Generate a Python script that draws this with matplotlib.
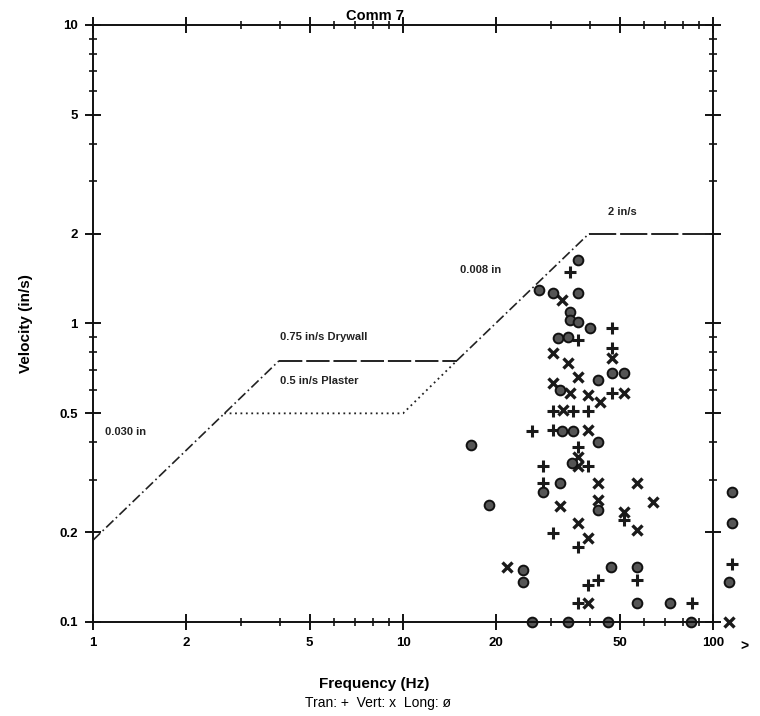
import matplotlib.pyplot as plt
import numpy as np
from matplotlib.ticker import FixedLocator, FixedFormatter, LogLocator, NullFormatter

plt.rcParams['font.family'] = ['Liberation Sans', 'DejaVu Sans']

# --- Criteria lines (corner points) ---
disp030_f = [1.0, 3.98]
disp030_v = [0.188, 0.75]
drywall_f = [3.98, 14.9]
drywall_v = [0.75, 0.75]
disp008_f = [14.9, 39.8]
disp008_v = [0.75, 2.0]
cap2_f = [39.8, 100.0]
cap2_v = [2.0, 2.0]
plaster_f = [2.65, 10.0, 14.9]
plaster_v = [0.5, 0.5, 0.75]

# --- Measured peaks: Tran (+) ---
tran_f = [34.6, 47.2, 36.7, 47.2, 47.2, 30.5, 35.3, 39.5, 26.1, 30.5, 36.7, 39.5,
          28.3, 28.3, 30.5, 36.7, 51.6, 39.5, 42.6, 56.9, 36.7, 85.5, 115.0]
tran_v = [1.49, 0.966, 0.88, 0.828, 0.585, 0.509, 0.509, 0.509, 0.435, 0.44, 0.386, 0.334,
          0.334, 0.293, 0.199, 0.178, 0.22, 0.133, 0.138, 0.138, 0.116, 0.116, 0.157]

# --- Vert (x) ---
vert_f = [32.6, 30.5, 34.1, 47.2, 30.5, 36.7, 34.6, 51.6, 39.5, 43.2, 32.8, 39.5, 36.7,
          36.7, 42.6, 56.9, 64.0, 42.6, 32.1, 51.6, 56.9, 36.7, 39.5, 21.6, 39.5, 113.0]
vert_v = [1.2, 0.796, 0.738, 0.766, 0.632, 0.662, 0.585, 0.585, 0.576, 0.545, 0.512, 0.44, 0.357,
          0.334, 0.293, 0.293, 0.252, 0.256, 0.245, 0.234, 0.203, 0.215, 0.191, 0.153, 0.116, 0.1]

# --- Long (o) ---
long_f = [36.7, 27.5, 30.5, 36.7, 34.6, 34.6, 36.7, 40.1, 31.6, 34.1, 42.6, 47.2, 51.6,
          32.1, 35.3, 32.6, 42.6, 35.0, 16.6, 32.1, 28.3, 18.9, 42.6, 24.4, 24.4, 46.9,
          56.9, 56.9, 72.6, 115.0, 115.0, 113.0, 26.1, 34.1, 45.8, 84.9]
long_v = [1.63, 1.29, 1.27, 1.27, 1.09, 1.03, 1.01, 0.966, 0.894, 0.90, 0.647, 0.683, 0.683,
          0.599, 0.435, 0.435, 0.40, 0.341, 0.392, 0.293, 0.272, 0.247, 0.237, 0.149, 0.136, 0.153,
          0.153, 0.116, 0.116, 0.272, 0.215, 0.136, 0.1, 0.1, 0.1, 0.1]

x_ticks = [1, 2, 5, 10, 20, 50, 100]
x_labels = ['1', '2', '5', '10', '20', '50', '100']
y_ticks = [0.1, 0.2, 0.5, 1, 2, 5, 10]
y_labels = ['0.1', '0.2', '0.5', '1', '2', '5', '10']

fig = plt.figure(figsize=(7.6, 7.16), dpi=100)
ax = fig.add_axes([0.1224, 0.1313, 0.8158, 0.8338])
ax.set_xscale('log')
ax.set_yscale('log')
ax.set_xlim(1, 100)
ax.set_ylim(0.1, 10)

lc = '#222222'
ax.plot(disp030_f, disp030_v, color=lc, lw=1.2, linestyle=(0, (6, 2, 1, 2)))
ax.plot(drywall_f, drywall_v, color=lc, lw=1.4, linestyle=(0, (12, 2)))
ax.plot(disp008_f, disp008_v, color=lc, lw=1.2, linestyle=(0, (6, 2, 1, 2)))
ax.plot(cap2_f, cap2_v, color=lc, lw=1.4, linestyle=(0, (14, 2)))
ax.plot(plaster_f, plaster_v, color=lc, lw=1.3, linestyle=(0, (1, 2)))

ax.plot(tran_f, tran_v, linestyle='none', marker='+', ms=9, mew=2.2, color='#1a1a1a', clip_on=False)
ax.plot(vert_f, vert_v, linestyle='none', marker='x', ms=7, mew=2.4, color='#1a1a1a', clip_on=False)
ax.plot(long_f, long_v, linestyle='none', marker='o', ms=7, mew=1.4,
        markerfacecolor='#555555', markeredgecolor='#111111', clip_on=False)

lbl = dict(fontsize=8, fontweight='bold', color='#222222', va='center')
ax.text(1.09, 0.433, '0.030 in', **lbl)
ax.text(4.01, 0.90, '0.75 in/s Drywall', **lbl)
ax.text(4.0, 0.642, '0.5 in/s Plaster', **lbl)
ax.text(15.3, 1.51, '0.008 in', **lbl)
ax.text(45.8, 2.36, '2 in/s', **lbl)

ax.xaxis.set_major_locator(FixedLocator(x_ticks))
ax.xaxis.set_major_formatter(FixedFormatter(x_labels))
ax.yaxis.set_major_locator(FixedLocator(y_ticks))
ax.yaxis.set_major_formatter(FixedFormatter(y_labels))
ax.xaxis.set_minor_locator(LogLocator(base=10, subs=np.arange(2, 10)))
ax.yaxis.set_minor_locator(LogLocator(base=10, subs=np.arange(2, 10)))
ax.xaxis.set_minor_formatter(NullFormatter())
ax.yaxis.set_minor_formatter(NullFormatter())

ax.tick_params(which='major', direction='inout', length=12, width=1.3,
               top=True, right=True, labelsize=9.5, pad=5)
ax.tick_params(which='minor', direction='inout', length=6, width=1.1, top=True, right=True)
for lab in ax.get_xticklabels() + ax.get_yticklabels():
    lab.set_fontweight('bold')
for sp in ax.spines.values():
    sp.set_linewidth(1.4)
    sp.set_color('#111111')

ax.set_ylabel('Velocity (in/s)', fontsize=11, fontweight='bold', labelpad=19)
ax.text(0.455, 1.004, 'Comm 7', transform=ax.transAxes, ha='center', va='bottom',
        fontsize=10.5, fontweight='bold')
fig.text(0.493, 0.045, 'Frequency (Hz)', ha='center', va='center', fontsize=11, fontweight='bold')
fig.text(0.497, 0.018, 'Tran: +  Vert: x  Long: ø', ha='center', va='center', fontsize=10)
fig.text(0.98, 0.097, '>', ha='center', va='center', fontsize=10, fontweight='bold')

plt.savefig('out.png', dpi=100)
